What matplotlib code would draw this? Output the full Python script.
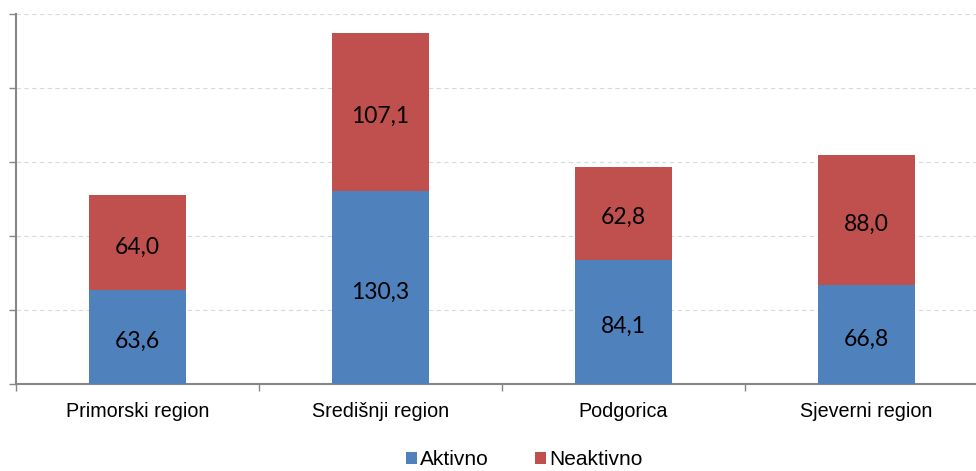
import matplotlib
matplotlib.use("Agg")
import matplotlib.pyplot as plt
import numpy as np

categories = ["Primorski region", "Središnji region", "Podgorica", "Sjeverni region"]
aktivno = [63.6, 130.3, 84.1, 66.8]
neaktivno = [64.0, 107.1, 62.8, 88.0]
aktivno_labels = ["63,6", "130,3", "84,1", "66,8"]
neaktivno_labels = ["64,0", "107,1", "62,8", "88,0"]
series_names = ["Aktivno", "Neaktivno"]

blue = "#4F81BD"
red = "#C0504D"
axis_col = "#868686"

fig = plt.figure(figsize=(9.76, 4.71), dpi=100)
ax = fig.add_axes([16/976, 87/471, 972/976, 370/471])

x = np.arange(len(categories))
w = 0.4
b1 = ax.bar(x, aktivno, width=w, color=blue, label=series_names[0], zorder=3)
b2 = ax.bar(x, neaktivno, width=w, bottom=aktivno, color=red, label=series_names[1], zorder=3)

lab_kw = dict(ha="center", va="center", fontsize=16.5, family=["Lato", "DejaVu Sans"],
              color="black", zorder=4, textcoords="offset points", xytext=(0, -3.2))
for xi, a, n, la, ln in zip(x, aktivno, neaktivno, aktivno_labels, neaktivno_labels):
    ax.annotate(la, (xi, a/2), **lab_kw)
    ax.annotate(ln, (xi, a + n/2), **lab_kw)

ax.set_ylim(0, 250)
ax.set_xlim(-0.5, 3.5)
ax.set_yticks(np.arange(0, 251, 50))
ax.set_yticklabels([])
ax.yaxis.grid(True, linestyle=(0, (4, 3)), color="#D9D9D9", linewidth=0.8, zorder=0)
ax.tick_params(axis="y", direction="out", length=5, color=axis_col, width=1)

ax.set_xticks(np.arange(-0.5, 3.6, 1))
ax.set_xticklabels([])
ax.set_xticks(x, minor=True)
ax.set_xticklabels(categories, minor=True, fontsize=14.2, family=["Liberation Sans", "DejaVu Sans"])
ax.tick_params(axis="x", which="major", direction="out", length=5, color=axis_col, width=1)
ax.tick_params(axis="x", which="minor", length=0, pad=13)

for s in ["top", "right"]:
    ax.spines[s].set_visible(False)
for s in ["left", "bottom"]:
    ax.spines[s].set_color(axis_col)
    ax.spines[s].set_linewidth(1.5)

fig.legend(handles=[b1, b2], labels=series_names, loc="center", bbox_to_anchor=(0.537, 0.024),
           ncol=2, frameon=False, prop={"family": ["Liberation Sans", "DejaVu Sans"], "size": 15},
           handlelength=0.55, handleheight=0.55, handletextpad=0.15, columnspacing=2.2)

fig.savefig("out.png", dpi=100)
